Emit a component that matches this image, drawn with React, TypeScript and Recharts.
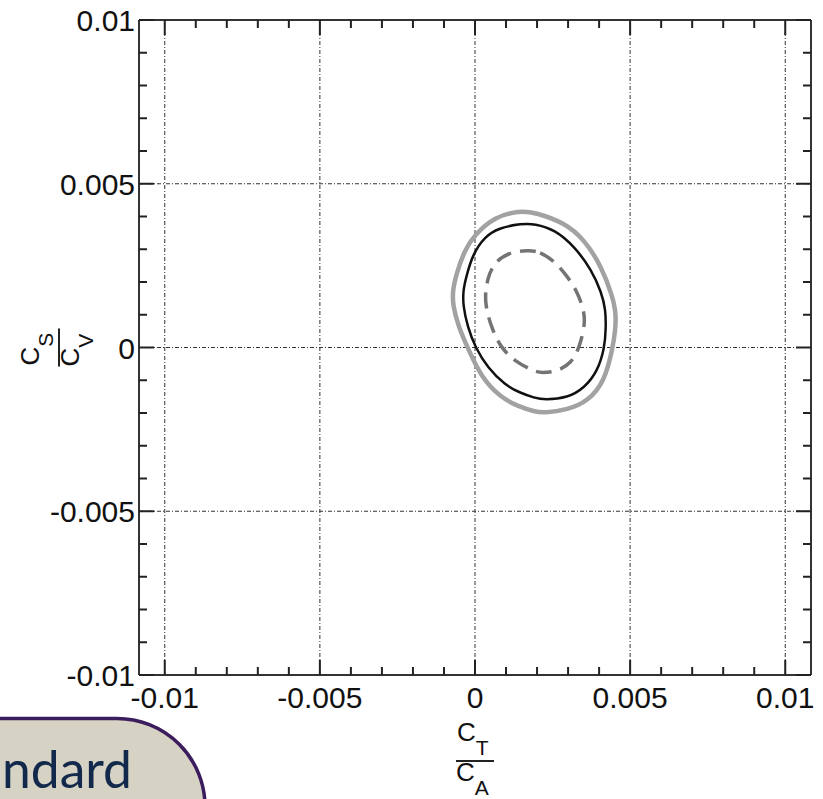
import React from 'react';
import {
    ComposedChart,
    Line,
    XAxis,
    YAxis,
    ReferenceLine,
} from 'recharts';

// Contours in the (CT/CA, CS/CV) plane
const outerContour = [
    { x: 0.00144, y: 0.00418 },
    { x: 0.00192, y: 0.00413 },
    { x: 0.00289, y: 0.00381 },
    { x: 0.00353, y: 0.00329 },
    { x: 0.00408, y: 0.00247 },
    { x: 0.00444, y: 0.00155 },
    { x: 0.00455, y: 0.00100 },
    { x: 0.00452, y: 0.00050 },
    { x: 0.00444, y: 0.00000 },
    { x: 0.00418, y: -0.00104 },
    { x: 0.00363, y: -0.00165 },
    { x: 0.00299, y: -0.00190 },
    { x: 0.00224, y: -0.00200 },
    { x: 0.00192, y: -0.00196 },
    { x: 0.00140, y: -0.00180 },
    { x: 0.00085, y: -0.00154 },
    { x: 0.00021, y: -0.00093 },
    { x: -0.00024, y: 0.00000 },
    { x: -0.00053, y: 0.00063 },
    { x: -0.00072, y: 0.00130 },
    { x: -0.00072, y: 0.00176 },
    { x: -0.00059, y: 0.00228 },
    { x: -0.00033, y: 0.00298 },
    { x: -0.00001, y: 0.00344 },
    { x: 0.00063, y: 0.00399 },
];

const middleContour = [
    { x: 0.00150, y: 0.00378 },
    { x: 0.00192, y: 0.00378 },
    { x: 0.00257, y: 0.00360 },
    { x: 0.00321, y: 0.00308 },
    { x: 0.00376, y: 0.00237 },
    { x: 0.00408, y: 0.00167 },
    { x: 0.00421, y: 0.00116 },
    { x: 0.00422, y: 0.00060 },
    { x: 0.00418, y: 0.00000 },
    { x: 0.00395, y: -0.00073 },
    { x: 0.00353, y: -0.00123 },
    { x: 0.00299, y: -0.00154 },
    { x: 0.00224, y: -0.00160 },
    { x: 0.00192, y: -0.00154 },
    { x: 0.00144, y: -0.00138 },
    { x: 0.00096, y: -0.00114 },
    { x: 0.00041, y: -0.00062 },
    { x: 0.00001, y: 0.00000 },
    { x: -0.00024, y: 0.00063 },
    { x: -0.00039, y: 0.00130 },
    { x: -0.00038, y: 0.00176 },
    { x: -0.00028, y: 0.00217 },
    { x: -0.00008, y: 0.00283 },
    { x: 0.00031, y: 0.00339 },
    { x: 0.00079, y: 0.00366 },
];

const innerContour = [
    { x: 0.00170, y: 0.00298 },
    { x: 0.00208, y: 0.00293 },
    { x: 0.00257, y: 0.00263 },
    { x: 0.00299, y: 0.00216 },
    { x: 0.00331, y: 0.00167 },
    { x: 0.00347, y: 0.00124 },
    { x: 0.00357, y: 0.00079 },
    { x: 0.00337, y: 0.00000 },
    { x: 0.00311, y: -0.00047 },
    { x: 0.00266, y: -0.00073 },
    { x: 0.00214, y: -0.00078 },
    { x: 0.00192, y: -0.00073 },
    { x: 0.00128, y: -0.00043 },
    { x: 0.00085, y: -0.00001 },
    { x: 0.00057, y: 0.00049 },
    { x: 0.00028, y: 0.00140 },
    { x: 0.00041, y: 0.00216 },
    { x: 0.00063, y: 0.00259 },
    { x: 0.00105, y: 0.00289 },
];

const minorTicks = [
    -0.01, -0.009, -0.008, -0.007, -0.006, -0.005, -0.004, -0.003, -0.002, -0.001,
    0, 0.001, 0.002, 0.003, 0.004, 0.005, 0.006, 0.007, 0.008, 0.009, 0.01,
];
const majorTicks = [-0.01, -0.005, 0, 0.005, 0.01];
const majorLabels = ['-0.01', '-0.005', '0', '0.005', '0.01'];
const gridY = [-0.005, 0, 0.005];

const FONT = '"Liberation Sans", Arial, Helvetica, sans-serif';
const INK = '#222';

const majorIndex = (v: number) => majorTicks.findIndex((m) => Math.abs(m - v) < 1e-9);

// tick marks point into the plot; labels only on left and bottom
const EdgeTick = (props: any) => {
    const { x, y, payload, side } = props;
    const idx = majorIndex(payload.value);
    const len = idx >= 0 ? 15 : 8;
    let line;
    if (side === 'bottom') line = <line x1={x} y1={y} x2={x} y2={y - len} />;
    else if (side === 'top') line = <line x1={x} y1={y} x2={x} y2={y + len} />;
    else if (side === 'left') line = <line x1={x} y1={y} x2={x + len} y2={y} />;
    else line = <line x1={x} y1={y} x2={x - len} y2={y} />;
    return (
        <g>
            <g stroke={INK} strokeWidth={2}>{line}</g>
            {idx >= 0 && side === 'bottom' && (
                <text x={x} y={y + 33} textAnchor="middle" fontSize={30} fontFamily={FONT} fill="#111">
                    {majorLabels[idx]}
                </text>
            )}
            {idx >= 0 && side === 'left' && (
                <text x={x - 4} y={y + 11} textAnchor="end" fontSize={30} fontFamily={FONT} fill="#111">
                    {majorLabels[idx]}
                </text>
            )}
        </g>
    );
};

// stacked C_a / C_b fraction used as an axis title
const FractionTitle = ({ x, y, angle, top, bottom }: { x: number; y: number; angle: number; top: string; bottom: string }) => (
    <g transform={`translate(${x},${y}) rotate(${angle})`} fontFamily={FONT} fill="#111">
        <line x1={-19} y1={0} x2={19} y2={0} stroke={INK} strokeWidth={2} />
        <text x={-18} y={-20} fontSize={26}>
            C<tspan fontSize={21} dy={14}>{top}</tspan>
        </text>
        <text x={-19} y={20} fontSize={26}>
            C<tspan fontSize={21} dy={14}>{bottom}</tspan>
        </text>
    </g>
);

const frame = { stroke: '#333', strokeWidth: 2 };

const App: React.FC = () => {
    return (
        <div style={{ position: 'absolute', left: 0, top: 0, width: 823, height: 799, background: '#fff', overflow: 'hidden' }}>
            <ComposedChart
                width={823}
                height={799}
                margin={{ top: 0, right: 0, bottom: 0, left: 0 }}
            >
                <XAxis
                    xAxisId="b"
                    type="number"
                    dataKey="x"
                    orientation="bottom"
                    domain={[-0.01083, 0.01083]}
                    allowDataOverflow
                    ticks={minorTicks}
                    interval={0}
                    height={124}
                    tickSize={0}
                    tickMargin={0}
                    tickLine={false}
                    axisLine={frame}
                    tick={(p: any) => <EdgeTick {...p} side="bottom" />}
                    label={{
                        content: ({ viewBox }: any) => (
                            <FractionTitle x={viewBox.x + viewBox.width / 2} y={viewBox.y + 86} angle={0} top="T" bottom="A" />
                        ),
                    }}
                />
                <XAxis
                    xAxisId="t"
                    type="number"
                    dataKey="x"
                    orientation="top"
                    domain={[-0.01083, 0.01083]}
                    allowDataOverflow
                    ticks={minorTicks}
                    interval={0}
                    height={20}
                    tickSize={0}
                    tickMargin={0}
                    tickLine={false}
                    axisLine={frame}
                    tick={(p: any) => <EdgeTick {...p} side="top" />}
                />
                <YAxis
                    yAxisId="l"
                    type="number"
                    orientation="left"
                    domain={[-0.01, 0.01]}
                    allowDataOverflow
                    ticks={minorTicks}
                    interval={0}
                    width={139}
                    tickSize={0}
                    tickMargin={0}
                    tickLine={false}
                    axisLine={frame}
                    tick={(p: any) => <EdgeTick {...p} side="left" />}
                    label={{
                        content: ({ viewBox }: any) => (
                            <FractionTitle x={viewBox.x + viewBox.width - 80} y={viewBox.y + viewBox.height / 2} angle={-90} top="S" bottom="V" />
                        ),
                    }}
                />
                <YAxis
                    yAxisId="r"
                    type="number"
                    orientation="right"
                    domain={[-0.01, 0.01]}
                    allowDataOverflow
                    ticks={minorTicks}
                    interval={0}
                    width={12}
                    tickSize={0}
                    tickMargin={0}
                    tickLine={false}
                    axisLine={frame}
                    tick={(p: any) => <EdgeTick {...p} side="right" />}
                />

                {majorTicks.map((v) => (
                    <ReferenceLine key={`gx${v}`} xAxisId="b" yAxisId="l" x={v} stroke="#333" strokeWidth={1} strokeDasharray="4 2 1 2" />
                ))}
                {gridY.map((v) => (
                    <ReferenceLine key={`gy${v}`} xAxisId="b" yAxisId="l" y={v} stroke="#333" strokeWidth={1} strokeDasharray="4 2 1 2" />
                ))}

                <Line
                    xAxisId="b"
                    yAxisId="l"
                    data={outerContour}
                    dataKey="y"
                    type="basisClosed"
                    stroke="#a2a2a2"
                    strokeWidth={4.5}
                    dot={false}
                    activeDot={false}
                    isAnimationActive={false}
                />
                <Line
                    xAxisId="b"
                    yAxisId="l"
                    data={middleContour}
                    dataKey="y"
                    type="basisClosed"
                    stroke="#111"
                    strokeWidth={2.5}
                    dot={false}
                    activeDot={false}
                    isAnimationActive={false}
                />
                <Line
                    xAxisId="b"
                    yAxisId="l"
                    data={innerContour}
                    dataKey="y"
                    type="basisClosed"
                    stroke="#747474"
                    strokeWidth={3.5}
                    strokeDasharray="16 9"
                    dot={false}
                    activeDot={false}
                    isAnimationActive={false}
                />
            </ComposedChart>

            <svg width={823} height={799} style={{ position: 'absolute', left: 0, top: 0, pointerEvents: 'none' }}>
                <path
                    d="M -10 718.5 H 117 A 88 88 0 0 1 205 806.5 V 830 H -10 Z"
                    fill="#d6d3c4"
                    stroke="#3b1c5c"
                    strokeWidth={3.5}
                />
                <text
                    x={2}
                    y={788}
                    textLength={130}
                    lengthAdjust="spacingAndGlyphs"
                    fontSize={52}
                    fontFamily="Lato, 'Open Sans', sans-serif"
                    fill="#13294b"
                >
                    ndard
                </text>
            </svg>
        </div>
    );
};

export default App;
